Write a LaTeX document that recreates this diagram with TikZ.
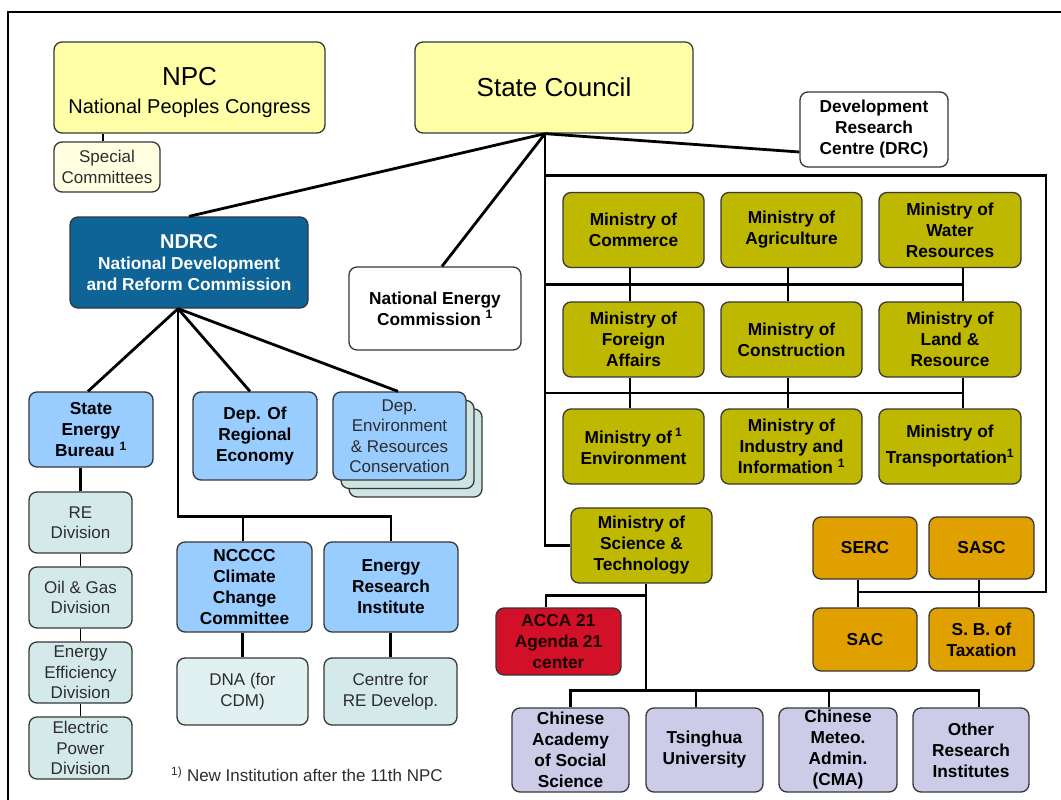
\documentclass[tikz,border=0pt]{standalone}
\usepackage{fontspec}
\setmainfont{Liberation Sans}
\usetikzlibrary{calc}
\definecolor{yellowbox}{RGB}{255,255,168}
\definecolor{creambox}{RGB}{255,255,226}
\definecolor{ndrcblue}{RGB}{14,100,150}
\definecolor{lightblue}{RGB}{153,204,255}
\definecolor{paleteal}{RGB}{212,234,234}
\definecolor{stackteal}{RGB}{204,229,226}
\definecolor{olive}{RGB}{190,184,0}
\definecolor{amber}{RGB}{224,160,0}
\definecolor{accared}{RGB}{210,16,40}
\definecolor{lavender}{RGB}{204,204,232}
\definecolor{boxline}{RGB}{55,55,55}
\definecolor{softtext}{RGB}{45,45,45}
\begin{document}
\begin{tikzpicture}[x=1pt,y=-1pt,
  box/.style={draw=boxline, line width=1.3pt, rounded corners=8pt, inner sep=0pt, align=center, text=black},
  boldtxt/.style={font=\fontsize{17.3}{21}\selectfont\bfseries},
  softtxt/.style={font=\fontsize{17}{20.5}\selectfont, text=softtext},
  ministry/.style={box, boldtxt, fill=olive, minimum width=141pt, minimum height=75pt},
  bureau/.style={box, boldtxt, fill=amber, minimum width=104pt, minimum height=62pt},
  institute/.style={box, boldtxt, fill=lavender, minimum width=117pt, minimum height=84pt},
  ndrcdep/.style={box, boldtxt, fill=lightblue},
  division/.style={box, softtxt, fill=paleteal, minimum width=103pt, minimum height=61pt},
  link/.style={line width=2.8pt, line join=miter},
  thinlink/.style={line width=1.6pt}]
\useasboundingbox (0,0) rectangle (1061,800);
\fill[white] (0,0) rectangle (1061,800);
% outer frame (only its top and left sides fall inside the page)
\draw[line width=2.8pt] (8,800) -- (8,12) -- (1061,12);

% ---- top level ----
\node[box, fill=yellowbox, minimum width=271pt, minimum height=91pt] (npc) at (189.5,87.5) {};
\node[align=center, inner sep=0pt, font=\fontsize{20}{28}\selectfont] (npctext) at ([yshift=-5pt]npc.center)
  {{\fontsize{26}{28}\selectfont NPC}\\National Peoples Congress};
\node[box, softtxt, fill=creambox, minimum width=106pt, minimum height=50pt] (special) at (107,167) {Special\\Committees};
\node[box, fill=yellowbox, minimum width=278pt, minimum height=91pt, font=\fontsize{26}{30}\selectfont] (sc) at (554,87.5) {State Council};
\node[box, boldtxt, fill=white, minimum width=148pt, minimum height=75pt] (drc) at (874,129.5) {Development\\Research\\Centre (DRC)};
\node[box, boldtxt, fill=ndrcblue, text=white, minimum width=238pt, minimum height=91pt] (ndrc) at (189,262.5)
  {{\fontsize{20}{21}\selectfont NDRC}\\National Development\\and Reform Commission};
\node[box, boldtxt, fill=white, minimum width=172pt, minimum height=83pt] (nec) at (435,308.5) {National Energy\\Commission \textsuperscript{1}};

% ---- NDRC departments ----
\node[ndrcdep, minimum width=124pt, minimum height=75pt] (seb) at (91,429.5) {State\\Energy\\Bureau \textsuperscript{1}};
\node[ndrcdep, minimum width=124pt, minimum height=88pt] (depreg) at (255,436) {Dep. Of\\Regional\\Economy};
\node[box, fill=stackteal, minimum width=133pt, minimum height=88pt] (envb) at (415.5,453) {};
\node[box, fill=stackteal, minimum width=133pt, minimum height=88pt] (enva) at (407.5,444.5) {};
\node[box, softtxt, fill=lightblue, minimum width=133pt, minimum height=88pt] (depenv) at (399.5,436) {Dep.\\Environment\\\& Resources\\Conservation};

\node[division] (re) at (80.5,522.5) {RE\\Division};
\node[division] (oil) at (80.5,597.5) {Oil \& Gas\\Division};
\node[division] (eff) at (80.5,672.5) {Energy\\Efficiency\\Division};
\node[division, minimum height=62pt] (elec) at (80.5,748) {Electric\\Power\\Division};

\node[ndrcdep, minimum width=135pt, minimum height=90pt] (ncccc) at (244.5,587) {NCCCC\\Climate\\Change\\Committee};
\node[ndrcdep, minimum width=134pt, minimum height=90pt] (eri) at (391,587) {Energy\\Research\\Institute};
\node[box, softtxt, fill=paleteal!70!white, minimum width=131pt, minimum height=67pt] (dna) at (242.5,691.5) {DNA (for\\CDM)};
\node[box, softtxt, fill=paleteal, minimum width=133pt, minimum height=67pt] (cre) at (390.5,691.5) {Centre for\\RE Develop.};

\node[anchor=west, inner sep=0pt, font=\fontsize{17}{20}\selectfont, text=softtext] (note) at (171,774)
  {\textsuperscript{1)} New Institution after the 11th NPC};

% ---- ministries ----
\node[ministry] (comm) at (633.5,230) {Ministry of\\Commerce};
\node[ministry] (agri) at (791.5,230) {Ministry of\\Agriculture};
\node[ministry, minimum width=142pt] (water) at (950,230) {Ministry of\\Water\\Resources};
\node[ministry] (fa) at (633.5,339.5) {Ministry of\\Foreign\\Affairs};
\node[ministry] (cons) at (791.5,339.5) {Ministry of\\Construction};
\node[ministry, minimum width=142pt] (land) at (950,339.5) {Ministry of\\Land \&\\Resource};
\node[ministry] (envm) at (633.5,446.5) {Ministry of\,\textsuperscript{1}\\Environment};
\node[ministry] (ind) at (791.5,446.5) {Ministry of\\Industry and\\Information \textsuperscript{1}};
\node[ministry, minimum width=142pt] (trans) at (950,446.5) {Ministry of\\[5pt]Transportation\textsuperscript{1}};
\node[ministry] (most) at (641.5,545.5) {Ministry of\\Science \&\\Technology};
\node[box, boldtxt, fill=accared, text=black!90!red, minimum width=125pt, minimum height=67pt] (acca) at (558.5,641.5) {ACCA 21\\Agenda 21\\center};

\node[bureau] (serc) at (865,548) {SERC};
\node[bureau, minimum width=105pt] (sasc) at (981.5,548) {SASC};
\node[bureau, minimum height=63pt] (sac) at (865,639.5) {SAC};
\node[bureau, minimum width=105pt, minimum height=63pt] (sbt) at (981.5,639.5) {S. B. of\\Taxation};

\node[institute] (cass) at (570.5,750) {Chinese\\Academy\\of Social\\Science};
\node[institute] (tsing) at (704.5,750) {Tsinghua\\University};
\node[institute, minimum width=118pt] (cma) at (838,750) {Chinese\\Meteo.\\Admin.\\(CMA)};
\node[institute, minimum width=116pt] (other) at (971,750) {Other\\Research\\Institutes};

% ---- connectors ----
\coordinate (spk) at ([xshift=-4pt]special.north);
\draw[link] (spk) -- (spk |- npc.south);

\coordinate (schub) at ([xshift=-9pt]sc.south);
\draw[link] (schub) -- (ndrc.north);
\draw[link] (schub) -- ([xshift=7pt]nec.north);
\draw[link] (schub) -- ([yshift=-22.5pt]drc.west);
\draw[link] (schub) |- (most.west);

% bracket around the ministries
\coordinate (brtop) at ($(schub)+(0,42)$);
\coordinate (brright) at (1046,592);
\coordinate (sercc) at ([xshift=-7pt]serc.south);
\coordinate (sascc) at ([xshift=-2.5pt]sasc.south);
\draw[link] (brtop) -| (brright) -- (brright -| sercc);
\draw[link] (sercc) -- (sercc |- sac.north);
\draw[link] (sascc) -- (sascc |- sbt.north);

\coordinate (k1) at ([xshift=-3.5pt]comm.south);
\coordinate (k2) at ([xshift=-3.5pt]agri.south);
\coordinate (k3) at ([xshift=13pt]water.south);
\coordinate (bus1) at ($(comm.south)!0.5!(fa.north)$);
\coordinate (bus2) at ($(fa.south)!0.5!(envm.north)$);
\draw[link] (schub |- bus1) -- (k3 |- bus1);
\draw[link] (schub |- bus2) -- (k3 |- bus2);
\draw[link] (k1) -- (k1 |- fa.north);
\draw[link] (k2) -- (k2 |- cons.north);
\draw[link] (k3) -- (k3 |- land.north);
\draw[link] (k1 |- fa.south) -- (k1 |- envm.north);
\draw[link] (k2 |- cons.south) -- (k2 |- ind.north);
\draw[link] (k3 |- land.south) -- (k3 |- trans.north);

% Science & Technology branch
\coordinate (mk) at ([xshift=4.5pt]most.south);
\coordinate (accak) at ([xshift=-12.5pt]acca.north);
\coordinate (bra) at ($(most.south)!0.5!(acca.north)$);
\coordinate (bus3) at ($(cass.north)+(0,-17)$);
\coordinate (tk) at ([xshift=-8.5pt]tsing.north);
\coordinate (ck) at ([xshift=-9pt]cma.north);
\coordinate (ok) at ([xshift=8pt]other.north);
\draw[link] (mk) -- (mk |- bus3);
\draw[link] (mk |- bra) -| (accak);
\draw[link] (cass.north) |- (ok |- bus3) -- (ok);
\draw[link] (tk) -- (tk |- bus3);
\draw[link] (ck) -- (ck |- bus3);

% NDRC branch
\coordinate (nk) at ([xshift=-11pt]ndrc.south);
\coordinate (bus4) at ($(ncccc.north)+(0,-25)$);
\coordinate (nck) at ([xshift=-1.5pt]ncccc.north);
\draw[link] (nk) -- ([xshift=-3pt]seb.north);
\draw[link] (nk) -- ([xshift=-5pt]depreg.north);
\draw[link] (nk) -- ([xshift=-1.5pt]depenv.north);
\draw[link] (nk) |- (eri.north |- bus4) -- (eri.north);
\draw[link] (nck) -- (nck |- bus4);
\draw[link] (dna.north |- ncccc.south) -- (dna.north);
\draw[link] (cre.north |- eri.south) -- (cre.north);
\draw[link] (re.north |- seb.south) -- (re.north);
\draw[thinlink] (re.south) -- (oil.north);
\draw[thinlink] (oil.south) -- (eff.north);
\draw[thinlink] (eff.south) -- (elec.north);
\end{tikzpicture}
\end{document}
